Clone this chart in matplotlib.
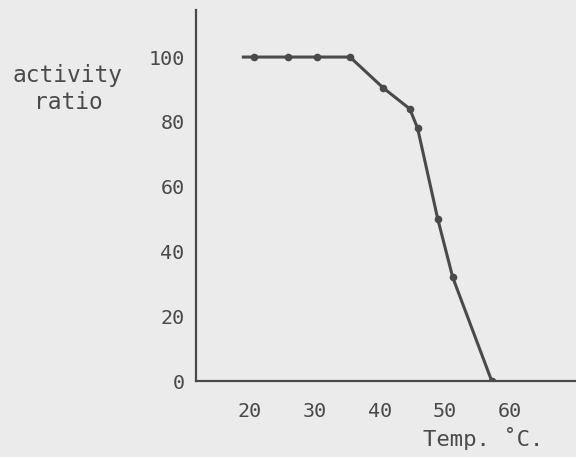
import matplotlib.pyplot as plt

# values
temp = [19.0, 20.6, 25.8, 30.3, 35.4, 40.5, 44.6, 45.8, 48.9, 51.2, 57.2]
activity = [100, 100, 100, 100, 100, 90.5, 84, 78, 50, 32, 0]
xticks = [20, 30, 40, 50, 60]
yticks = [0, 20, 40, 60, 80, 100]

bg = '#ebebeb'
ink = '#4a4a4a'
plt.rcParams['font.family'] = ['DejaVu Sans Mono']

fig = plt.figure(figsize=(5.76, 4.57), dpi=100, facecolor=bg)
ax = fig.add_axes([0.340, 0.166, 0.66, 0.812], facecolor=bg)

ax.plot(temp, activity, color=ink, lw=2.2, marker='o', ms=4.5,
        markevery=list(range(1, len(temp))))

ax.set_xlim(11.7, 70.15)
ax.set_ylim(0, 114.5)
ax.set_xticks(xticks)
ax.set_yticks(yticks)
ax.tick_params(length=0, labelsize=14.5, labelcolor=ink)
ax.tick_params(axis='x', pad=15)
ax.tick_params(axis='y', pad=8)

for s in ['top', 'right']:
    ax.spines[s].set_visible(False)
for s in ['left', 'bottom']:
    ax.spines[s].set_color(ink)
    ax.spines[s].set_linewidth(1.6)

fig.text(0.118, 0.805, 'activity\nratio', ha='center', va='center',
         fontsize=16.5, color=ink, linespacing=1.2)
fig.text(0.838, 0.04, 'Temp. \u02daC.', ha='center', va='center',
         fontsize=16, color=ink)

fig.savefig('out.png', dpi=100, facecolor=bg)
